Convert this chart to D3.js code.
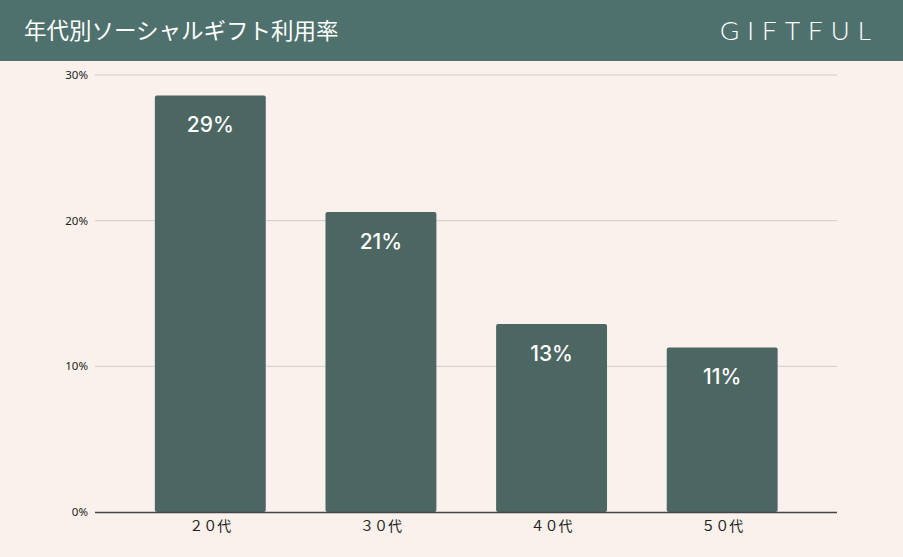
<!DOCTYPE html>
<html><head><meta charset="utf-8">
<script src="https://cdn.jsdelivr.net/npm/d3@7"></script>
<style>
html,body{margin:0;padding:0;background:#faf1ec;}
svg{display:block;font-family:"Noto Sans CJK JP","Noto Sans",sans-serif;}
</style></head><body>
<svg id="c" width="903" height="557"></svg>
<script>
const categories = ["２０代","３０代","４０代","５０代"];
const values = [28.6, 20.6, 12.9, 11.3];
const valueLabels = ["29%","21%","13%","11%"];
const yTicks = [0,10,20,30];
const title = "年代別ソーシャルギフト利用率";
const brand = "GIFTFUL";

const svg = d3.select("#c");
const W = 903, H = 557;
svg.append("rect").attr("width",W).attr("height",H).attr("fill","#faf1ec");
svg.append("rect").attr("width",W).attr("height",61).attr("fill","#4f716d");
svg.append("text").attr("x",24).attr("y",39).attr("fill","#fff")
  .attr("font-size",22.5).attr("font-weight",400).text(title);
svg.append("text").attr("x",720).attr("y",40).attr("fill","#fff")
  .attr("font-family","Lato, 'Open Sans', sans-serif").attr("font-weight",300)
  .attr("font-size",26).attr("textLength",151).attr("lengthAdjust","spacing").text(brand);

const y = d3.scaleLinear().domain([0,30]).range([512,75]);
const x = d3.scaleBand().domain(categories).range([125,807.5]).paddingInner(0.35).paddingOuter(0.175);

const g = svg.append("g");
g.selectAll(".grid").data(yTicks.filter(d=>d>0)).join("line")
  .attr("x1",95).attr("x2",837).attr("y1",d=>y(d)).attr("y2",d=>y(d))
  .attr("stroke","#d0cccb").attr("stroke-width",1);
g.selectAll(".yl").data(yTicks).join("text")
  .attr("x",88).attr("y",d=>y(d)+4).attr("text-anchor","end")
  .attr("font-family","'Noto Sans',sans-serif").attr("font-size",11.5).attr("fill","#222")
  .text(d=>d+"%");
g.selectAll(".bar").data(values).join("rect")
  .attr("x",(d,i)=>x(categories[i])).attr("width",x.bandwidth())
  .attr("y",d=>y(d)).attr("height",d=>y(0)-y(d))
  .attr("rx",2).attr("fill","#4c6661");
g.append("line").attr("x1",95).attr("x2",837).attr("y1",y(0)+0.5).attr("y2",y(0)+0.5)
  .attr("stroke","#444").attr("stroke-width",1.3);
g.selectAll(".vl").data(values).join("text")
  .attr("x",(d,i)=>x(categories[i])+x.bandwidth()/2).attr("y",d=>y(d)+37)
  .attr("text-anchor","middle").attr("fill","#fff").attr("font-size",21).attr("font-weight",500)
  .attr("font-family","Inter,'Noto Sans',sans-serif")
  .text((d,i)=>valueLabels[i]);
g.selectAll(".cl").data(categories).join("text")
  .attr("x",d=>x(d)+x.bandwidth()/2).attr("y",531)
  .attr("text-anchor","middle").attr("fill","#222").attr("font-size",14)
  .text(d=>d);
</script></body></html>
